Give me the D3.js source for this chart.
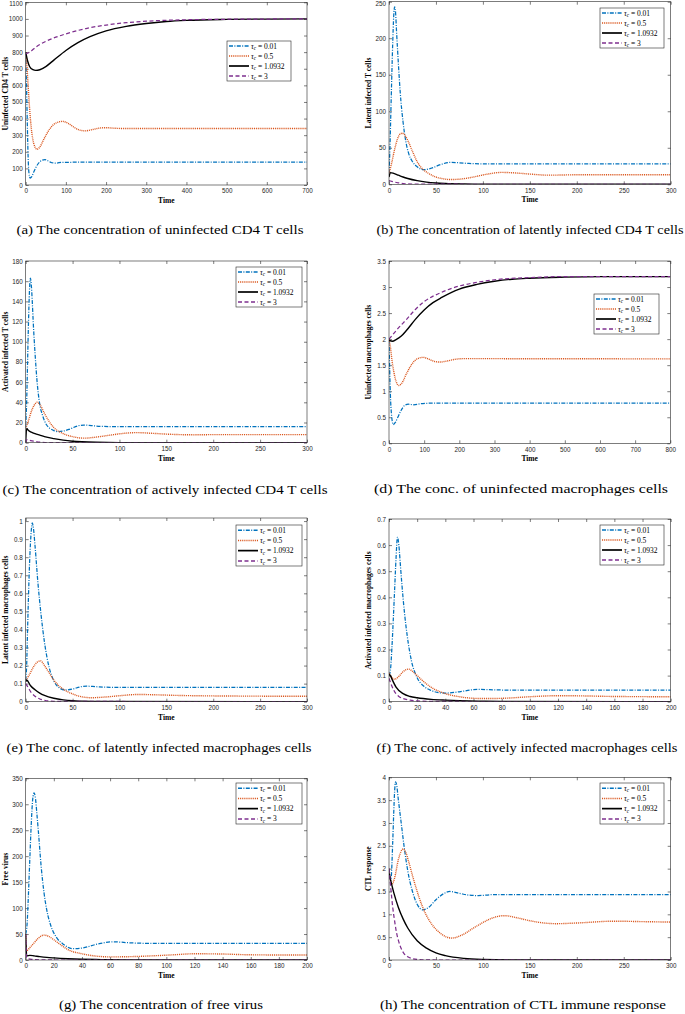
<!DOCTYPE html>
<html><head><meta charset="utf-8">
<script src="https://cdn.jsdelivr.net/npm/d3@7"></script>
<style>
body{margin:0;background:#fff;}
svg{display:block;}
.tick text{font-family:"Liberation Sans",Arial,sans-serif;font-size:6.3px;fill:#262626;}
.tick line{stroke:#262626;stroke-width:0.6;}
</style></head>
<body>
<svg id="chart" width="685" height="1014"></svg>
<script>
// ---------- DATA ----------
const legendLabels = ["0.01", "0.5", "1.0932", "3"];

// (a) uninfected CD4 T cells
const a_tau001 = [[0,800],[1,700],[2,600],[4,370],[6,170],[8,75],[11,42],[15,50],[20,78],[30,125],[40,148],[48,153],[55,146],[65,134],[75,132],[90,136],[120,137],[700,137]];
const a_tau05 = [[0,800],[3,720],[6,600],[10,450],[15,320],[20,250],[28,215],[35,228],[45,275],[60,338],[75,373],[92,383],[105,372],[120,348],[135,330],[148,326],[165,333],[185,343],[200,345],[220,342],[250,340],[700,340]];
const a_tau10932 = [[0,800],[5,745],[10,712],[18,694],[25,690],[35,694],[50,713],[70,752],[100,810],[130,857],[160,893],[200,928],[250,955],[300,972],[350,984],[400,991],[500,997],[600,999],[700,1000]];
const a_tau3 = [[0,790],[10,800],[25,830],[50,865],[75,890],[100,910],[150,942],[200,963],[250,977],[300,986],[400,995],[500,998],[700,1000]];

// (b) latent infected T cells
const b_tau001 = [[0,15],[1,50],[2,100],[3,150],[4,195],[5,230],[6,243],[7,235],[8,210],[10,165],[12,125],[15,85],[18,58],[21,42],[25,31],[30,24],[37,20],[45,22],[55,27],[65,30],[75,29.5],[85,28.5],[100,28],[300,28]];
const b_tau05 = [[0,15],[3,30],[6,48],[9,62],[12,69],[14,70],[17,67],[20,60],[25,45],[30,31],[35,22],[42,15],[50,10],[58,7.5],[65,6.5],[75,7],[90,10],[105,14],[120,16.3],[135,15.5],[150,14],[170,12.5],[200,13],[300,13]];
const b_tau10932 = [[0,10],[1.5,16],[5,15],[10,12.5],[15,10],[20,8],[30,5],[40,3],[50,1.8],[60,1.1],[80,0.4],[100,0.1],[300,0]];
const b_tau3 = [[0,5],[3,4],[6,3],[10,2],[15,1],[20,0.5],[30,0.1],[300,0]];

// (c) activated infected T cells
const c_tau001 = [[0,15],[1,40],[2,80],[3,120],[4,150],[5,163],[6,156],[7,140],[8,120],[10,88],[12,62],[15,38],[18,27],[22,18],[26,14],[30,12],[34,11],[40,11.5],[47,13.5],[55,16.5],[62,17.5],[70,17],[80,16.2],[95,16],[300,16]];
const c_tau05 = [[0,14],[3,22],[6,31],[9,37],[12,40],[15,38],[20,29],[25,21],[30,15],[40,9],[50,6],[62,4.5],[75,5.5],[90,7.5],[105,9.3],[118,10],[135,9.3],[155,8.3],[180,7.8],[200,8],[300,8]];
const c_tau10932 = [[0,0],[1,14],[3,12],[6,10.5],[10,9],[15,7.5],[20,6],[30,4],[40,2.5],[50,1.5],[60,0.9],[75,0.4],[100,0.1],[300,0]];
const c_tau3 = [[0,0],[1,3],[4,2.4],[8,1.6],[12,0.9],[18,0.4],[25,0.1],[300,0]];

// (d) uninfected macrophages
const d_tau001 = [[0,2],[2,1.4],[4,0.92],[7,0.56],[12,0.36],[18,0.4],[25,0.5],[35,0.64],[45,0.73],[55,0.75],[70,0.74],[90,0.76],[120,0.77],[800,0.77]];
const d_tau05 = [[0,2],[4,1.85],[8,1.62],[14,1.36],[20,1.19],[28,1.11],[36,1.15],[50,1.34],[65,1.52],[80,1.62],[97,1.65],[115,1.61],[130,1.57],[145,1.56],[165,1.58],[190,1.615],[210,1.625],[800,1.62]];
const d_tau10932 = [[0,1.98],[10,1.96],[20,1.99],[35,2.06],[50,2.17],[75,2.38],[100,2.56],[125,2.7],[150,2.8],[200,2.96],[250,3.05],[300,3.11],[350,3.15],[400,3.17],[500,3.19],[600,3.2],[800,3.2]];
const d_tau3 = [[0,2.0],[10,2.08],[25,2.2],[50,2.38],[75,2.57],[100,2.72],[150,2.9],[200,3.02],[250,3.09],[300,3.14],[400,3.18],[500,3.2],[800,3.2]];

// (e) latent infected macrophages
const e_tau001 = [[0,0.12],[1,0.2],[2,0.4],[4,0.75],[6,0.95],[7,0.99],[8,0.97],[10,0.86],[13,0.66],[16,0.5],[20,0.33],[25,0.19],[30,0.115],[35,0.08],[42,0.065],[50,0.07],[58,0.082],[65,0.086],[75,0.083],[90,0.08],[300,0.08]];
const e_tau05 = [[0,0.12],[4,0.15],[8,0.19],[12,0.218],[16,0.226],[20,0.2],[25,0.16],[30,0.12],[35,0.09],[42,0.063],[50,0.043],[60,0.027],[70,0.022],[85,0.026],[100,0.033],[120,0.04],[140,0.038],[160,0.035],[200,0.032],[300,0.03]];
const e_tau10932 = [[0,0.11],[1,0.12],[5,0.09],[10,0.066],[15,0.048],[20,0.035],[30,0.019],[40,0.01],[50,0.005],[60,0.003],[80,0.001],[300,0]];
const e_tau3 = [[0,0.1],[3,0.075],[6,0.05],[10,0.03],[15,0.015],[20,0.008],[30,0.002],[300,0]];

// (f) activated infected macrophages
const f_tau001 = [[0,0.1],[1,0.12],[2,0.2],[3,0.31],[4,0.43],[5,0.55],[6,0.63],[7,0.6],[8,0.53],[9,0.46],[11,0.34],[13,0.25],[16,0.155],[20,0.092],[25,0.058],[30,0.043],[35,0.035],[40,0.033],[50,0.038],[60,0.046],[65,0.047],[75,0.0455],[90,0.044],[200,0.044]];
const f_tau05 = [[0,0.11],[2,0.093],[4,0.086],[7,0.097],[10,0.115],[14,0.125],[17,0.115],[20,0.1],[25,0.075],[30,0.055],[40,0.031],[50,0.019],[60,0.013],[70,0.012],[85,0.014],[100,0.019],[120,0.023],[140,0.022],[160,0.02],[200,0.019]];
const f_tau10932 = [[0,0.105],[1,0.1],[2,0.088],[5,0.056],[10,0.031],[15,0.02],[20,0.015],[30,0.009],[40,0.006],[50,0.004],[65,0.002],[80,0.001],[200,0]];
const f_tau3 = [[0,0.09],[2,0.06],[5,0.03],[7,0.02],[10,0.012],[15,0.006],[20,0.003],[30,0.001],[200,0]];

// (g) free virus
const g_tau001 = [[0,50],[1,70],[2,130],[3,200],[4,265],[5,310],[6,322],[7,310],[8,280],[9,248],[11,180],[13,130],[15,96],[18,65],[22,43],[27,30],[33,22],[40,23],[50,30],[62,35],[75,33],[90,32],[200,32]];
const g_tau05 = [[0,50],[0.7,18],[3,24],[6,33],[9,42],[13,48],[16,46],[20,39],[25,29],[30,20],[40,12],[50,7.5],[60,6],[75,6.5],[90,8],[105,10],[120,12],[140,11.5],[160,10],[200,9.5]];
const g_tau10932 = [[0,50],[0.7,8],[3,9],[6,8],[10,6.5],[15,5],[20,4],[30,2.5],[40,1.5],[50,0.9],[60,0.5],[80,0.2],[100,0.05],[200,0]];
const g_tau3 = [[0,50],[0.6,5],[2,2],[5,1],[10,0.3],[20,0],[200,0]];

// (h) CTL response
const h_tau001 = [[0,2],[2,1.75],[4,2.6],[5,3.2],[6,3.7],[7,3.9],[8,3.85],[10,3.5],[13,3.0],[16,2.5],[20,1.95],[25,1.5],[30,1.22],[36,1.1],[42,1.15],[50,1.32],[58,1.45],[65,1.5],[75,1.46],[85,1.42],[95,1.41],[110,1.43],[300,1.43]];
const h_tau05 = [[0,2],[3,1.65],[6,1.8],[10,2.2],[15,2.43],[18,2.35],[21,2.15],[25,1.85],[30,1.5],[35,1.2],[40,0.97],[45,0.8],[55,0.58],[67,0.48],[78,0.55],[90,0.7],[100,0.82],[110,0.92],[123,0.97],[135,0.93],[150,0.86],[165,0.81],[178,0.795],[200,0.81],[240,0.85],[270,0.84],[300,0.83]];
const h_tau10932 = [[0,1.9],[5,1.48],[10,1.15],[15,0.9],[20,0.7],[30,0.42],[40,0.26],[50,0.155],[60,0.095],[80,0.035],[100,0.013],[130,0.003],[300,0]];
const h_tau3 = [[0,2],[2,1.55],[4,1.15],[6,0.85],[8,0.6],[10,0.43],[13,0.25],[16,0.14],[20,0.07],[25,0.03],[35,0.005],[50,0],[300,0]];

// tick values
const xTicks700 = [0,100,200,300,400,500,600,700];
const xTicks300 = [0,50,100,150,200,250,300];
const xTicks800 = [0,100,200,300,400,500,600,700,800];
const xTicks200 = [0,20,40,60,80,100,120,140,160,180,200];
const yTicksA = [0,100,200,300,400,500,600,700,800,900,1000,1100];
const yTicksB = [0,50,100,150,200,250];
const yTicksC = [0,20,40,60,80,100,120,140,160,180];
const yTicksD = [0,0.5,1,1.5,2,2.5,3,3.5];
const yTicksE = [0,0.1,0.2,0.3,0.4,0.5,0.6,0.7,0.8,0.9,1];
const yTicksF = [0,0.1,0.2,0.3,0.4,0.5,0.6,0.7];
const yTicksG = [0,50,100,150,200,250,300,350];
const yTicksH = [0,0.5,1,1.5,2,2.5,3,3.5,4];

const yLabels = ["Uninfected CD4 T cells","Latent infected T cells","Activated infected T cells","Uninfected macrophages cells","Latent infected macrophages cells","Activated infected macrophages cells","Free virus","CTL response"];
const captions = ["(a) The concentration of uninfected CD4 T cells","(b) The concentration of latently infected CD4 T cells","(c) The concentration of actively infected CD4 T cells","(d) The conc. of uninfected macrophages cells","(e) The conc. of latently infected macrophages cells","(f) The conc. of actively infected macrophages cells","(g) The concentration of free virus","(h) The concentration of CTL immune response"];

// ---------- LAYOUT ----------
const panels = [
 {series:[a_tau001,a_tau05,a_tau10932,a_tau3], xd:[0,700], yd:[0,1100], xt:xTicks700, yt:yTicksA, L:25.7,R:307,T:2.3,B:185, leg:[227,41,291,81], cap:[160,234,287]},
 {series:[b_tau001,b_tau05,b_tau10932,b_tau3], xd:[0,300], yd:[0,250], xt:xTicks300, yt:yTicksB, L:389,R:670.7,T:1.7,B:184.3, leg:[600,8,664,48], cap:[530,234,307]},
 {series:[c_tau001,c_tau05,c_tau10932,c_tau3], xd:[0,300], yd:[0,180], xt:xTicks300, yt:yTicksC, L:25.7,R:307,T:261,B:442.7, leg:[236,267,302,307], cap:[165,494,325]},
 {series:[d_tau001,d_tau05,d_tau10932,d_tau3], xd:[0,800], yd:[0,3.5], xt:xTicks800, yt:yTicksD, L:389,R:670.3,T:261,B:443.3, leg:[594,294,659,334], cap:[521,493,294]},
 {series:[e_tau001,e_tau05,e_tau10932,e_tau3], xd:[0,300], yd:[0,1.017], xt:xTicks300, yt:yTicksE, L:25.7,R:307,T:518,B:701.7, leg:[236,525,302,566], cap:[159,752,305]},
 {series:[f_tau001,f_tau05,f_tau10932,f_tau3], xd:[0,200], yd:[0,0.7], xt:xTicks200, yt:yTicksF, L:389,R:670.7,T:519,B:701.7, leg:[600,525,664,565], cap:[527,752,301]},
 {series:[g_tau001,g_tau05,g_tau10932,g_tau3], xd:[0,200], yd:[0,350], xt:xTicks200, yt:yTicksG, L:25.7,R:307,T:778.3,B:960, leg:[236,783,302,824], cap:[161,1009,204]},
 {series:[h_tau001,h_tau05,h_tau10932,h_tau3], xd:[0,300], yd:[0,4], xt:xTicks300, yt:yTicksH, L:389,R:670.7,T:777.3,B:960, leg:[600,783,664,824], cap:[523,1009,286]}
];

const styles = [
 {color:"#0072BD", dash:"4,1.4,1,1.4", w:1.25},
 {color:"#D95319", dash:"1,0.9", w:1.4},
 {color:"#000000", dash:null, w:1.4},
 {color:"#7E2F8E", dash:"4,2.5", w:1.25}
];

const svg = d3.select("#chart");
const serif = '"Liberation Serif","Times New Roman",serif';

panels.forEach((p, i) => {
  const g = svg.append("g");
  const x = d3.scaleLinear().domain(p.xd).range([p.L, p.R]);
  const y = d3.scaleLinear().domain(p.yd).range([p.B, p.T]);

  const cid = "clip" + i;
  svg.append("clipPath").attr("id", cid).append("rect")
    .attr("x", p.L).attr("y", p.T).attr("width", p.R - p.L).attr("height", p.B - p.T);

  const fmt = d => String(d);
  g.append("g").attr("transform", `translate(0,${p.B})`)
    .call(d3.axisBottom(x).tickValues(p.xt).tickSizeInner(-3).tickSizeOuter(0).tickPadding(4).tickFormat(fmt))
    .call(s => s.select(".domain").remove());
  g.append("g").attr("transform", `translate(0,${p.T})`)
    .call(d3.axisTop(x).tickValues(p.xt).tickSizeInner(-3).tickSizeOuter(0).tickFormat(""))
    .call(s => s.select(".domain").remove());
  const yAx = g.append("g").attr("transform", `translate(${p.L},0)`)
    .call(d3.axisLeft(y).tickValues(p.yt).tickSizeInner(-3).tickSizeOuter(0).tickPadding(3).tickFormat(fmt))
    .call(s => s.select(".domain").remove());
  // keep labels at the very top inside the page
  yAx.selectAll(".tick").each(function(d) {
    const py = y(d);
    if (py < 3) d3.select(this).select("text").attr("dy", (0.32 + (3 - py) / 6.3).toFixed(2) + "em");
  });
  g.append("g").attr("transform", `translate(${p.R},0)`)
    .call(d3.axisRight(y).tickValues(p.yt).tickSizeInner(-3).tickSizeOuter(0).tickFormat(""))
    .call(s => s.select(".domain").remove());

  const line = d3.line().x(d => x(d[0])).y(d => y(d[1])).curve(d3.curveMonotoneX);
  p.series.forEach((s, k) => {
    const st = styles[k];
    g.append("path").datum(s)
      .attr("clip-path", `url(#${cid})`)
      .attr("d", line)
      .attr("fill", "none")
      .attr("stroke", st.color)
      .attr("stroke-width", st.w)
      .attr("stroke-dasharray", st.dash);
  });

  g.append("rect").attr("x", p.L).attr("y", p.T).attr("width", p.R - p.L).attr("height", p.B - p.T)
    .attr("fill", "none").attr("stroke", "#262626").attr("stroke-width", 0.6);

  g.append("text").attr("x", (p.L + p.R) / 2).attr("y", p.B + 18)
    .attr("text-anchor", "middle").attr("font-family", serif).attr("font-weight", "bold")
    .attr("font-size", 7.5).attr("fill", "#000").text("Time");

  const yc = (p.T + p.B) / 2;
  g.append("text").attr("transform", `translate(${p.L - 18},${yc}) rotate(-90)`)
    .attr("text-anchor", "middle").attr("font-family", serif).attr("font-weight", "bold")
    .attr("font-size", 7.5).attr("fill", "#000").text(yLabels[i]);

  const [lx0, ly0, lx1, ly1] = p.leg;
  g.append("rect").attr("x", lx0).attr("y", ly0).attr("width", lx1 - lx0).attr("height", ly1 - ly0)
    .attr("fill", "#fff").attr("stroke", "#262626").attr("stroke-width", 0.6);
  const rowH = (ly1 - ly0) / 4;
  legendLabels.forEach((lab, k) => {
    const st = styles[k];
    const cy = ly0 + rowH * (k + 0.5);
    g.append("line").attr("x1", lx0 + 2).attr("x2", lx0 + 22).attr("y1", cy).attr("y2", cy)
      .attr("stroke", st.color).attr("stroke-width", k === 2 ? 1.7 : 1.5)
      .attr("stroke-dasharray", st.dash);
    const t = g.append("text").attr("x", lx0 + 24).attr("y", cy + 2.5)
      .attr("font-family", serif).attr("font-size", 7.5).attr("fill", "#000");
    t.append("tspan").attr("font-style", "italic").text("τ");
    t.append("tspan").attr("font-style", "italic").attr("font-size", 5.2).attr("dy", 1.5).text("c");
    t.append("tspan").attr("dy", -1.5).text(" = " + lab);
  });

  const [cx, cy, cw] = p.cap;
  g.append("text").attr("x", cx).attr("y", cy).attr("text-anchor", "middle")
    .attr("font-family", serif).attr("font-size", 12.5).attr("fill", "#000")
    .attr("textLength", cw).attr("lengthAdjust", "spacingAndGlyphs").text(captions[i]);
});
</script>
</body></html>
